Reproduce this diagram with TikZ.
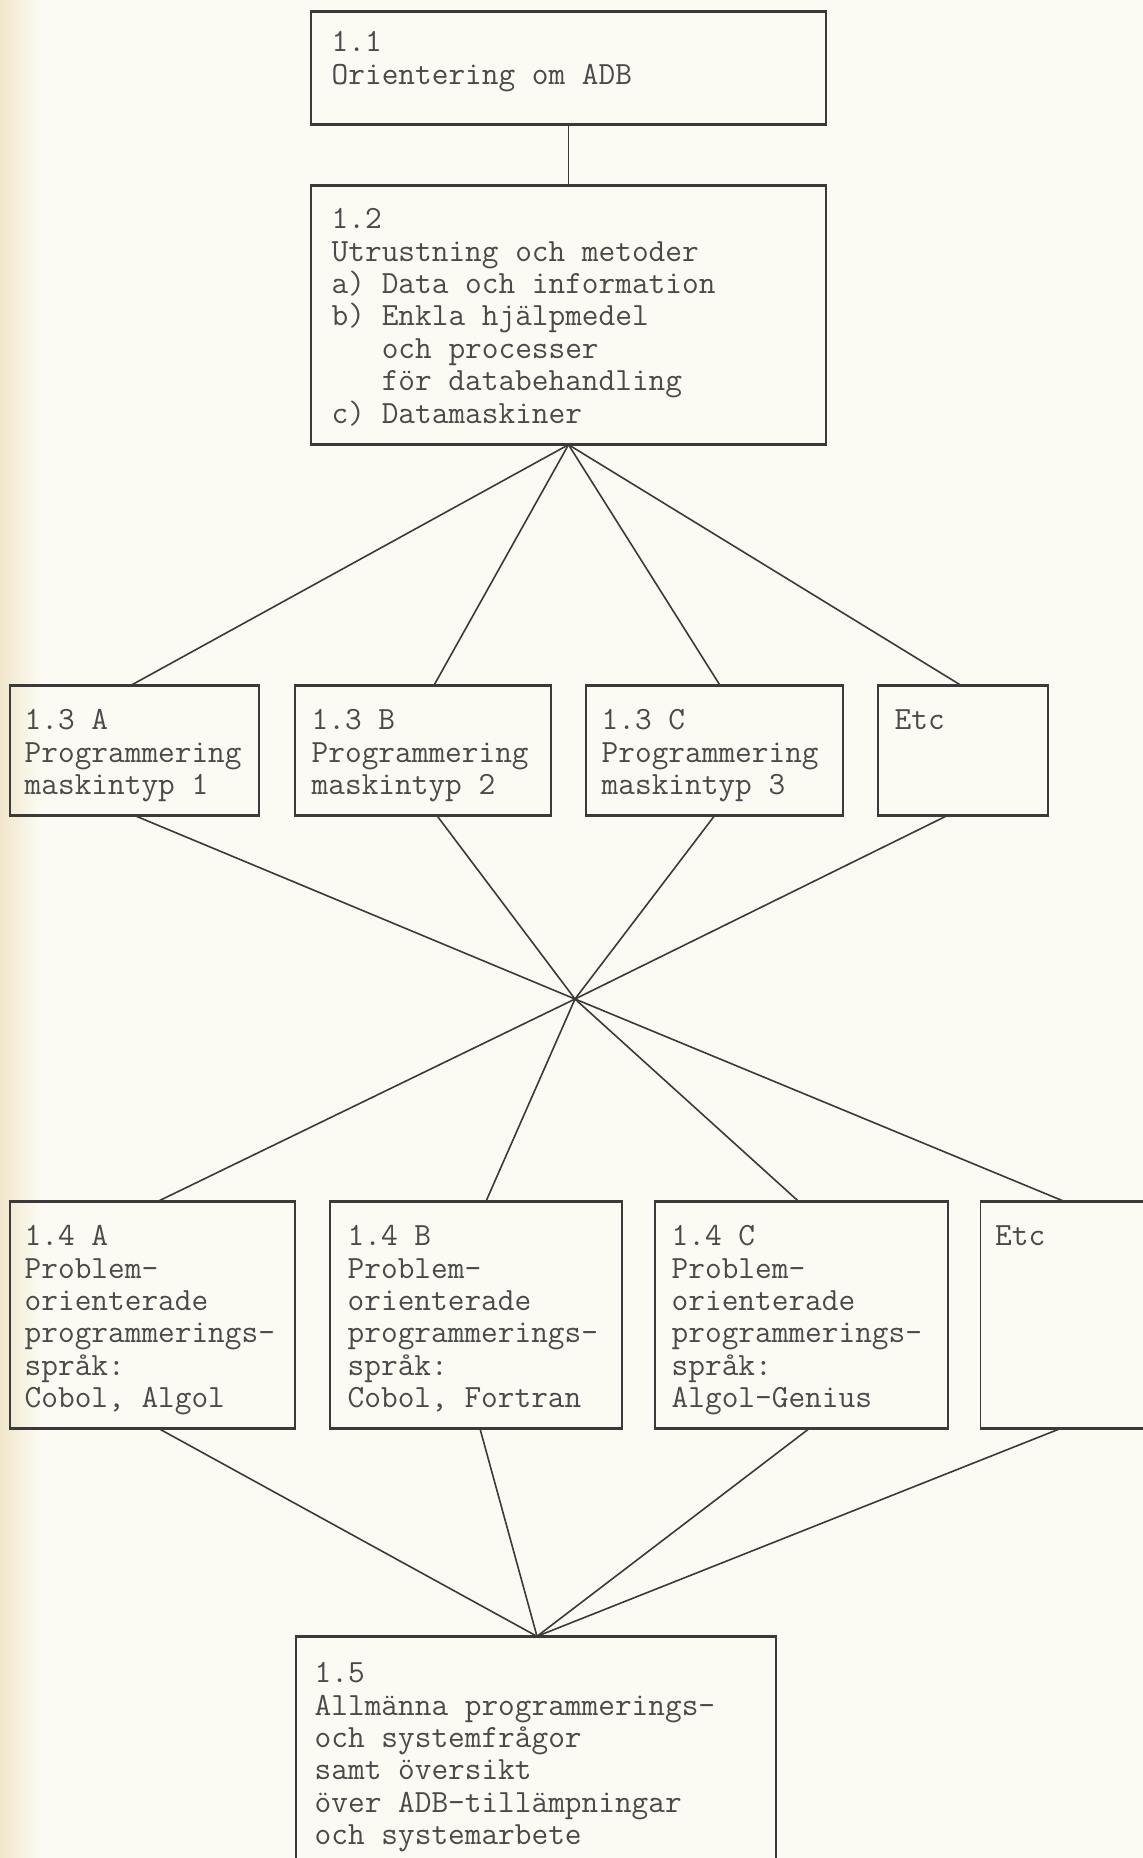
\documentclass[tikz,border=0pt]{standalone}
\usepackage{fontspec}
\usetikzlibrary{calc}
\definecolor{paper}{HTML}{FCFBF3}
\definecolor{ink}{HTML}{3A3A3A}
\definecolor{typed}{HTML}{4A4A4A}
\definecolor{stain}{HTML}{F1E6CB}
\begin{document}
\begin{tikzpicture}[x=0.5pt,y=-0.5pt,
  box/.style 2 args={rectangle, draw=ink, line width=0.7pt, inner sep=0pt,
    minimum width=#1*0.5pt, minimum height=#2*0.5pt},
  edge/.style={draw=ink, line width=1.7pt},
  conn/.style={draw=ink, line width=0.8pt},
  txt/.style={anchor=north west, inner sep=0pt, align=left, text=typed,
    font=\ttfamily\fontsize{16.2pt}{16.2pt}\selectfont}]
\useasboundingbox (0,0) rectangle (1143,1858);
\clip (0,0) rectangle (1143,1858);
\fill[paper] (0,0) rectangle (1143,1858);
\shade[left color=stain, right color=paper] (0,0) rectangle (40,1858);

% boxes
\node[box={515}{112}] (b11) at (568.5,68) {};
\node[box={515}{258}] (b12) at (568.5,315) {};
\node[box={249}{129}] (b13a) at (134.5,750.5) {};
\node[box={256}{129}] (b13b) at (423,750.5) {};
\node[box={257}{129}] (b13c) at (714.5,750.5) {};
\node[box={170}{129}] (b13e) at (963,750.5) {};
\node[box={285}{226}] (b14a) at (152.5,1315) {};
\node[box={292}{226}] (b14b) at (476,1315) {};
\node[box={293}{226}] (b14c) at (801.5,1315) {};
\node[box={180}{226}] (b14e) at (1070.5,1315) {};
\node[box={480}{263}] (b15) at (536,1768.5) {};

% heavy top and bottom rules of the boxes
\foreach \n in {b11,b12,b13a,b13b,b13c,b13e,b14a,b14b,b14c,b14e,b15}{
  \draw[edge] (\n.north west) -- (\n.north east);
  \draw[edge] (\n.south west) -- (\n.south east);
}

% texts
\node[txt] (t11) at ($(b11.north west)+(21,16)$) {\rule{0pt}{12pt}1.1\\Orientering om ADB};
\node[txt] (t12) at ($(b12.north west)+(21,19)$) {\rule{0pt}{12pt}1.2\\Utrustning och metoder\\a) Data och information\\b) Enkla hjälpmedel\\\phantom{b) }och processer\\\phantom{b) }för databehandling\\c) Datamaskiner};
\node[txt] (t13a) at ($(b13a.north west)+(15,20)$) {\rule{0pt}{12pt}1.3 A\\Programmering\\maskintyp 1};
\node[txt] (t13b) at ($(b13b.north west)+(17,20)$) {\rule{0pt}{12pt}1.3 B\\Programmering\\maskintyp 2};
\node[txt] (t13c) at ($(b13c.north west)+(16,20)$) {\rule{0pt}{12pt}1.3 C\\Programmering\\maskintyp 3};
\node[txt] (t13e) at ($(b13e.north west)+(17,20)$) {\rule{0pt}{12pt}Etc};
\node[txt] (t14a) at ($(b14a.north west)+(15,20)$) {\rule{0pt}{12pt}1.4 A\\Problem-\\orienterade\\programmerings-\\språk:\\Cobol, Algol};
\node[txt] (t14b) at ($(b14b.north west)+(18,20)$) {\rule{0pt}{12pt}1.4 B\\Problem-\\orienterade\\programmerings-\\språk:\\Cobol, Fortran};
\node[txt] (t14c) at ($(b14c.north west)+(17,20)$) {\rule{0pt}{12pt}1.4 C\\Problem-\\orienterade\\programmerings-\\språk:\\Algol-Genius};
\node[txt] (t14e) at ($(b14e.north west)+(15,20)$) {\rule{0pt}{12pt}Etc};
\node[txt] (t15) at ($(b15.north west)+(19,22)$) {\rule{0pt}{12pt}1.5\\Allmänna programmerings-\\och systemfrågor\\samt översikt\\över ADB-tillämpningar\\och systemarbete};

% connectors
\coordinate (hub) at (575,999);
\draw[conn] (b11) -- (b12);
\draw[conn] (b12.south) -- ($(b13a.north)+(-3.5,0)$);
\draw[conn] (b12.south) -- ($(b13b.north)+(11,0)$);
\draw[conn] (b12.south) -- ($(b13c.north)+(5.5,0)$);
\draw[conn] (b12.south) -- ($(b13e.north)+(-2,0)$);
\draw[conn] ($(b13a.south)+(0.5,0)$) -- (hub);
\draw[conn] ($(b13b.south)+(14,0)$) -- (hub);
\draw[conn] ($(b13c.south)+(0,0)$) -- (hub);
\draw[conn] ($(b13e.south)+(-16,0)$) -- (hub);
\draw[conn] (hub) -- ($(b14a.north)+(5.5,0)$);
\draw[conn] (hub) -- ($(b14b.north)+(10,0)$);
\draw[conn] (hub) -- ($(b14c.north)+(-3,0)$);
\draw[conn] (hub) -- ($(b14e.north)+(-6.5,0)$);
\draw[conn] ($(b14a.south)+(6.5,0)$) -- ($(b15.north)+(1,0)$);
\draw[conn] ($(b14b.south)+(4,0)$) -- ($(b15.north)+(1,0)$);
\draw[conn] ($(b14c.south)+(7.5,0)$) -- ($(b15.north)+(1,0)$);
\draw[conn] ($(b14e.south)+(-10.5,0)$) -- ($(b15.north)+(1,0)$);
\end{tikzpicture}
\end{document}
